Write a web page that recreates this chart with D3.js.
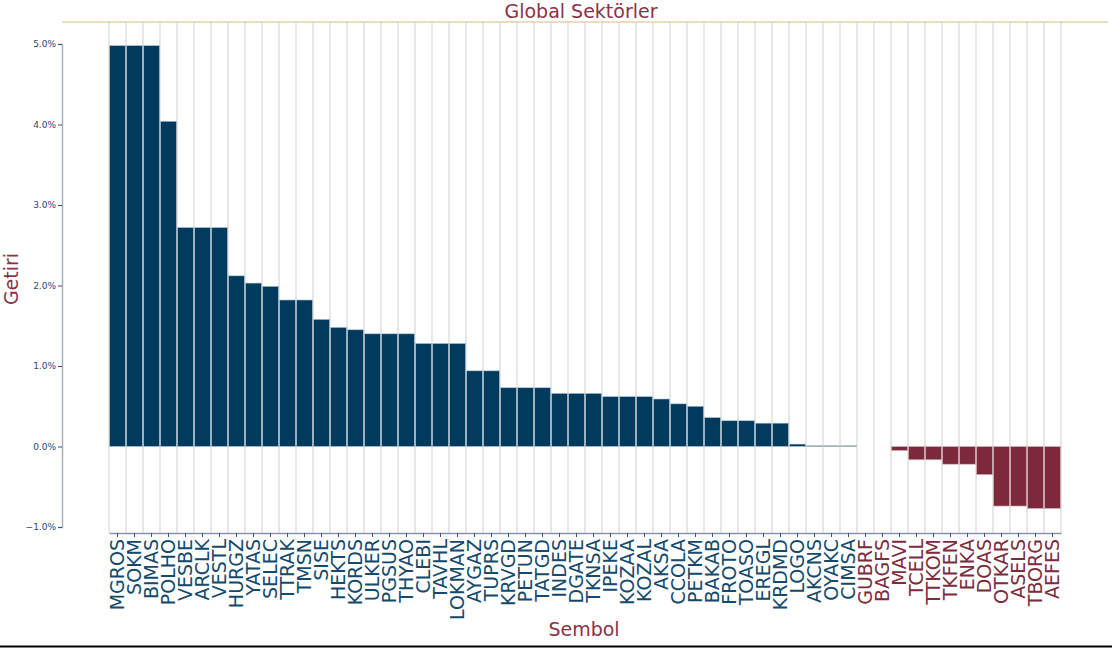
<!DOCTYPE html>
<html><head><meta charset="utf-8">
<script src="https://cdn.jsdelivr.net/npm/d3@7"></script>
<style>body{margin:0;background:#fff}svg{display:block;font-family:"DejaVu Sans",sans-serif}</style>
</head><body><svg id="c" width="1112" height="648"></svg>
<script>
const symbols=["MGROS","SOKM","BIMAS","POLHO","VESBE","ARCLK","VESTL","HURGZ","YATAS","SELEC","TTRAK","TMSN","SISE","HEKTS","KORDS","ULKER","PGSUS","THYAO","CLEBI","TAVHL","LOKMAN","AYGAZ","TUPRS","KRVGD","PETUN","TATGD","INDES","DGATE","TKNSA","IPEKE","KOZAA","KOZAL","AKSA","CCOLA","PETKM","BAKAB","FROTO","TOASO","EREGL","KRDMD","LOGO","AKCNS","OYAKC","CIMSA","GUBRF","BAGFS","MAVI","TCELL","TTKOM","TKFEN","ENKA","DOAS","OTKAR","ASELS","TBORG","AEFES"];
const returns=[4.98,4.98,4.98,4.04,2.72,2.72,2.72,2.12,2.03,1.99,1.82,1.82,1.58,1.48,1.45,1.40,1.40,1.40,1.28,1.28,1.28,0.94,0.94,0.73,0.73,0.73,0.66,0.66,0.66,0.62,0.62,0.62,0.59,0.53,0.50,0.36,0.32,0.32,0.29,0.29,0.03,0.01,0.01,0.01,0,0,-0.05,-0.165,-0.165,-0.22,-0.22,-0.35,-0.74,-0.74,-0.77,-0.77];
const yTicks=[-1,0,1,2,3,4,5];
const title="Global Sektörler", xTitle="Sembol", yTitle="Getiri";

const POS="#003a5d", NEG="#7b293b", LBL_POS="#154a6c", LBL_NEG="#7d2c3e", TITLE="#8a3346";
const svg=d3.select("#c");
const x=d3.scaleBand().domain(symbols).range([109,1061]).padding(0);
const y=d3.scaleLinear().domain([-1,5]).range([527,44]);

// top beige line
svg.append("line").attr("x1",62).attr("x2",1108).attr("y1",22).attr("y2",22).attr("stroke","#e3d3a9").attr("stroke-width",1.5);

// vertical gridlines at band edges
const edges=symbols.map(s=>x(s)).concat([x.range()[1]]);
svg.append("g").selectAll("line").data(edges).join("line")
  .attr("x1",d=>d).attr("x2",d=>d).attr("y1",22).attr("y2",533)
  .attr("stroke","#cfcfcf").attr("stroke-width",1);

// bars
svg.append("g").selectAll("rect").data(symbols).join("rect")
  .attr("x",(d)=>x(d)+0.5).attr("width",x.bandwidth()-1)
  .attr("y",(d,i)=>y(Math.max(0,returns[i])))
  .attr("height",(d,i)=>Math.abs(y(returns[i])-y(0)))
  .attr("fill",(d,i)=>returns[i]>0?POS:NEG)
  .attr("stroke",(d,i)=>returns[i]>0?"#b8c6d2":"#d8b8c0").attr("stroke-width",0.6);

// y axis
const ya=svg.append("g").attr("transform","translate(62,0)")
  .call(d3.axisLeft(y).tickValues(yTicks).tickSize(4).tickFormat(d=>(d<0?"\u2212":"")+Math.abs(d).toFixed(1)+"%"));
ya.select(".domain").attr("stroke","#a3b0c0").attr("stroke-width",1.5);
ya.selectAll(".tick line").attr("stroke","#3b5575");
ya.selectAll("text").attr("fill","#2d4a6c").attr("font-size",9).attr("font-family","DejaVu Sans").attr("x",-6);

// x axis
const xa=svg.append("g").attr("transform","translate(0,533)")
  .call(d3.axisBottom(x).tickSize(4).tickSizeOuter(0));
xa.select(".domain").attr("stroke","#8797ab").attr("stroke-width",1.5);
xa.selectAll(".tick line").attr("stroke","#3b5575");
xa.selectAll("text").attr("font-size",19).attr("font-family","DejaVu Sans")
  .attr("transform","rotate(-90)").attr("text-anchor","end").attr("dy","0.35em").attr("y",0).attr("x",-6)
  .attr("fill",(d,i)=>returns[i]>0?LBL_POS:LBL_NEG);

// titles
svg.append("text").attr("x",581).attr("y",18).attr("text-anchor","middle").attr("font-size",19).attr("fill",TITLE).text(title);
svg.append("text").attr("x",584).attr("y",636).attr("text-anchor","middle").attr("font-size",19).attr("fill",TITLE).text(xTitle);
svg.append("text").attr("transform","translate(18,279) rotate(-90)").attr("text-anchor","middle").attr("font-size",19).attr("fill",TITLE).text(yTitle);

// bottom border
svg.append("line").attr("x1",0).attr("x2",1112).attr("y1",646.5).attr("y2",646.5).attr("stroke","#000").attr("stroke-width",2);
</script></body></html>
